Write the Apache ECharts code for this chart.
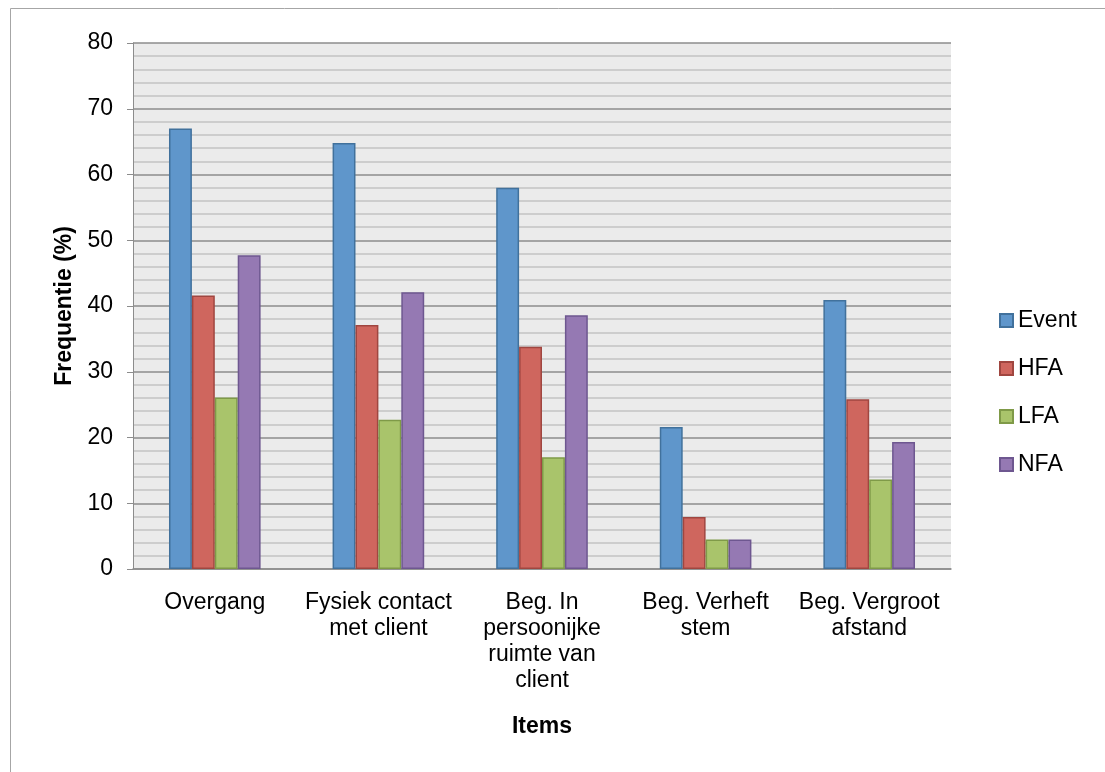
<!DOCTYPE html>
<html>
<head>
<meta charset="utf-8">
<script src="https://cdn.jsdelivr.net/npm/echarts@6/dist/echarts.min.js"></script>
<style>
html,body{margin:0;padding:0;background:#fff;}
#c{width:1105px;height:772px;}
</style>
</head>
<body>
<div id="c"></div>
<script>
const categories = ["Overgang", "Fysiek contact\nmet client", "Beg. In\npersoonijke\nruimte van\nclient", "Beg. Verheft\nstem", "Beg. Vergroot\nafstand"];
const seriesNames = ["Event", "HFA", "LFA", "NFA"];
const eventVals = [67.0, 64.8, 58.0, 21.6, 40.9];
const hfaVals = [41.6, 37.1, 33.8, 7.9, 25.8];
const lfaVals = [26.1, 22.7, 17.0, 4.5, 13.6];
const nfaVals = [47.7, 42.1, 38.6, 4.5, 19.3];
const yTicks = [0, 10, 20, 30, 40, 50, 60, 70, 80];

const fills = ["#5f96cb", "#cf665e", "#a9c46b", "#9579b3"];
const borders = ["#41719c", "#a04640", "#7f9a48", "#6e5790"];
const allVals = [eventVals, hfaVals, lfaVals, nfaVals];

const chart = echarts.init(document.getElementById('c'), null, {renderer: 'canvas'});
const font = '"Liberation Sans", Arial, sans-serif';
chart.setOption({
  animation: false,
  backgroundColor: '#ffffff',
  textStyle: {fontFamily: font},
  graphic: [{
    type: 'rect', z: -10, silent: true,
    shape: {x: 10.5, y: 8.5, width: 1200, height: 900},
    style: {fill: 'none', stroke: '#a6a6a6', lineWidth: 1}
  }],
  grid: {left: 133, top: 43, right: 154, bottom: 203, show: true, backgroundColor: '#ebebeb', borderWidth: 0},
  legend: {
    orient: 'vertical', left: 999, top: 309, padding: 0,
    itemWidth: 13, itemHeight: 13, itemGap: 25,
    textStyle: {fontSize: 23, lineHeight: 23, color: '#000', fontFamily: font},
    icon: 'rect',
    data: seriesNames
  },
  xAxis: {
    type: 'category', data: categories,
    name: 'Items', nameLocation: 'middle', nameGap: 146,
    nameTextStyle: {fontSize: 23, fontWeight: 'bold', color: '#000', fontFamily: font},
    axisLine: {lineStyle: {color: '#8c8c8c', width: 1.5}},
    axisTick: {show: false},
    axisLabel: {fontSize: 23, color: '#000', interval: 0, margin: 21, lineHeight: 26, fontFamily: font}
  },
  yAxis: {
    type: 'value', min: 0, max: 80, interval: 10,
    name: 'Frequentie (%)', nameLocation: 'middle', nameGap: 57, nameRotate: 90,
    nameTextStyle: {fontSize: 23, fontWeight: 'bold', color: '#000', fontFamily: font},
    axisLine: {show: true, lineStyle: {color: '#8c8c8c', width: 1}},
    axisTick: {show: true, length: 6, lineStyle: {color: '#8c8c8c'}},
    axisLabel: {fontSize: 23, color: '#000', margin: 20, fontFamily: font,
      formatter: v => yTicks.includes(v) ? String(v) : ''},
    splitLine: {show: true, lineStyle: {color: '#8c8c8c', width: 1.5}},
    minorTick: {show: false, splitNumber: 5},
    minorSplitLine: {show: true, lineStyle: {color: '#c4c4c4', width: 1.5}}
  },
  series: seriesNames.map((n, i) => ({
    name: n, type: 'bar', data: allVals[i],
    barGap: '0%', barCategoryGap: '44%',
    itemStyle: {color: fills[i], borderColor: borders[i], borderWidth: 1.5}
  }))
});
</script>
</body>
</html>
